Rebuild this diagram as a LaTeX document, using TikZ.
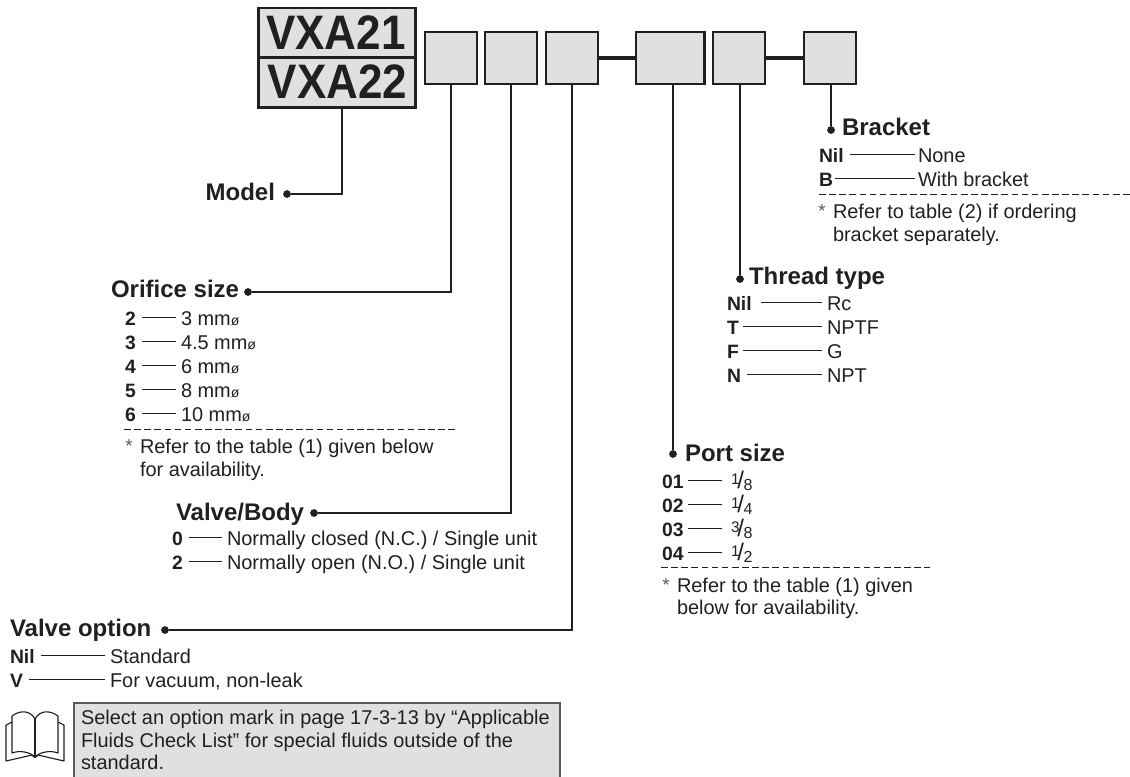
\documentclass[tikz,border=0pt]{standalone}
\usepackage{fontspec}
\setmainfont{Liberation Sans}
\definecolor{ink}{HTML}{231F20}
\definecolor{boxgray}{HTML}{DFE0E2}
\definecolor{notegray}{HTML}{58595B}
\newcommand{\txtsize}{\fontsize{14.95}{17}\selectfont}
\newcommand{\lblsize}{\fontsize{14.5}{17}\selectfont\bfseries}
\newcommand{\ttlsize}{\fontsize{18}{21}\selectfont\bfseries}
\newcommand{\diam}{\fontsize{10.5}{10.5}\selectfont ø}
\newcommand{\frc}[2]{\raisebox{2.6pt}{\fontsize{11.5}{11.5}\selectfont #1}\kern-1.6pt{\fontsize{18}{18}\selectfont /}\kern-0.4pt\raisebox{-1.5pt}{\fontsize{12}{12}\selectfont #2}}
\tikzset{
  x=0.75pt,y=-0.75pt,
  every node/.style={text=ink,inner sep=0pt,outer sep=0pt},
  segbox/.style={draw=ink,line width=2pt,fill=boxgray,anchor=north west},
  conn/.style={draw=ink,line width=1.6pt},
  link/.style={draw=ink,line width=2.8pt},
  thin line/.style={draw=ink,line width=0.7pt},
  dash line/.style={draw=ink,line width=0.7pt,dash pattern=on 5pt off 2.6pt},
  dotmark/.style={circle,fill=ink,minimum size=5.8pt},
  ttl/.style={anchor=base west,font=\ttlsize},
  lbl/.style={anchor=base west,font=\lblsize},
  val/.style={anchor=base west,font=\txtsize},
  ast/.style={anchor=center,font=\fontsize{14}{14}\selectfont,text=notegray},
  note/.style={draw=notegray,line width=1pt,fill=boxgray,anchor=north west},
  bookline/.style={draw=ink,line width=0.85pt,line join=round}
}
% name, label x, baseline y, label, line x1, line x2, value x, value
\newcommand{\optrow}[8]{%
  \node[lbl] (#1l) at (#2,#3) {#4};
  \node[val] (#1v) at (#7,#3) {#8};
  \coordinate (#1a) at (#5,#3-7.5);
  \coordinate (#1b) at (#6,#3-7.5);
  \draw[thin line] (#1a) -- (#1b);
}
\newcommand{\astmark}[3]{\node[ast] (#1) at (#2,#3) {*};}
\begin{document}
\begin{tikzpicture}
\useasboundingbox (0,0) rectangle (1130,776);
% model boxes
\node[segbox,minimum width=117.5pt,minimum height=37pt] (v1) at (258.5,8) {};
\node[segbox,minimum width=117.5pt,minimum height=37.5pt] (v2) at (258.5,57.5) {};
\node[anchor=base,font=\fontsize{33}{36}\selectfont\bfseries] (t1) at (336,49.5) {\scalebox{1}[1.1]{VXA21}};
\node[anchor=base,font=\fontsize{33}{36}\selectfont\bfseries] (t2) at (337.5,98.5) {\scalebox{1}[1.1]{VXA22}};
% segment boxes
\foreach \n/\xx/\ww in {b1/425/39,b2/485/39,b3/546/39,b4/636/51.5,b5/713/39,b6/804/39}{
  \node[segbox,minimum width=\ww pt,minimum height=39pt] (\n) at (\xx,32) {};
}
\draw[link] (b3.east) -- (b4.west);
\draw[link] (b5.east) -- (b6.west);
% titles
\node[anchor=base east,font=\ttlsize] (tModel) at (275,200) {Model};
\node[ttl] (tOrif) at (111,297) {Orifice size};
\node[ttl] (tBody) at (176,520) {Valve/Body};
\node[ttl] (tOpt) at (10,636) {Valve option};
\node[ttl] (tBrk) at (842,135) {Bracket};
\node[ttl] (tThr) at (749,284) {Thread type};
\node[ttl] (tPort) at (685,461) {Port size};
% dots
\node[dotmark] (dM) at (287,194) {};
\node[dotmark] (dO) at (248,292) {};
\node[dotmark] (dB) at (314,513) {};
\node[dotmark] (dV) at (165,630) {};
\node[dotmark] (dP) at (673,454) {};
\node[dotmark] (dT) at (740,279) {};
\node[dotmark] (dK) at (831,130) {};
% connectors
\coordinate (jm) at (342,108);
\draw[conn] (jm) |- (dM);
\draw[conn] (b1.south) |- (dO);
\draw[conn] (b2.south) |- (dB);
\draw[conn] (b3.south) |- (dV);
\draw[conn] (b4.south -| dP) -- (dP);
\draw[conn] (b5.south -| dT) -- (dT);
\draw[conn] (b6.south -| dK) -- (dK);
% bracket
\optrow{k1}{819}{162}{Nil}{850}{915}{918}{None}
\optrow{k2}{819}{186}{B}{835}{915}{918}{With bracket}
\coordinate (kd1) at (819,194); \coordinate (kd2) at (1130,194);
\draw[dash line] (kd1) -- (kd2);
\astmark{ka}{822}{211}
\node[val] (kn1) at (833,218) {Refer to table (2) if ordering};
\node[val] (kn2) at (833,241) {bracket separately.};
% thread
\optrow{h1}{727}{310}{Nil}{761}{822}{827}{Rc}
\optrow{h2}{727}{334}{T}{743}{822}{827}{NPTF}
\optrow{h3}{727}{358}{F}{743}{822}{827}{G}
\optrow{h4}{727}{382}{N}{747}{822}{827}{NPT}
% orifice
\optrow{o1}{125}{325}{2}{142}{176}{181}{3 mm\diam}
\optrow{o2}{125}{349}{3}{142}{176}{181}{4.5 mm\diam}
\optrow{o3}{125}{373}{4}{142}{176}{181}{6 mm\diam}
\optrow{o4}{125}{397}{5}{142}{176}{181}{8 mm\diam}
\optrow{o5}{125}{421}{6}{142}{176}{181}{10 mm\diam}
\coordinate (od1) at (124,429); \coordinate (od2) at (458,429);
\draw[dash line] (od1) -- (od2);
\astmark{oa}{129}{446}
\node[val] (on1) at (140,453) {Refer to the table (1) given below};
\node[val] (on2) at (140,476) {for availability.};
% body
\optrow{y1}{172}{545}{0}{189}{222}{227}{Normally closed (N.C.) / Single unit}
\optrow{y2}{172}{569}{2}{189}{222}{227}{Normally open (N.O.) / Single unit}
% port
\optrow{p1}{662}{488}{01}{688}{722}{731}{\frc{1}{8}}
\optrow{p2}{662}{512}{02}{688}{722}{731}{\frc{1}{4}}
\optrow{p3}{662}{536}{03}{688}{722}{731}{\frc{3}{8}}
\optrow{p4}{662}{560}{04}{688}{722}{731}{\frc{1}{2}}
\coordinate (pd1) at (661,567); \coordinate (pd2) at (930,567);
\draw[dash line] (pd1) -- (pd2);
\astmark{pa}{666}{585}
\node[val] (pn1) at (677,592) {Refer to the table (1) given};
\node[val] (pn2) at (677,614) {below for availability.};
% valve option
\optrow{v1r}{10}{663}{Nil}{41}{105}{110}{Standard}
\optrow{v2r}{10}{687}{V}{29}{105}{110}{For vacuum, non-leak}
% note
\begin{scope}
\clip (0,0) rectangle (1130,776);
\node[note,minimum width=364.5pt,minimum height=60pt] (nb) at (74,703) {};
\end{scope}
\node[val] (nt1) at (81,724) {Select an option mark in page 17-3-13 by “Applicable};
\node[val] (nt2) at (81,747) {Fluids Check List” for special fluids outside of the};
\node[val] (nt3) at (81,769) {standard.};
% book icon
\draw[bookline] (35,757) .. controls (30,752) and (20,750) .. (12,753) -- (12,716) .. controls (20,710) and (30,710) .. (35,719) .. controls (40,710) and (50,710) .. (58,716) -- (58,753) .. controls (50,750) and (40,752) .. (35,757) -- cycle;
\draw[bookline] (35,719) -- (35,757);
\draw[bookline] (12,722) -- (6,725) -- (6,761) -- (32,755) .. controls (34,758) and (36,758) .. (38,755) -- (64,761) -- (64,725) -- (58,722);
\end{tikzpicture}
\end{document}
